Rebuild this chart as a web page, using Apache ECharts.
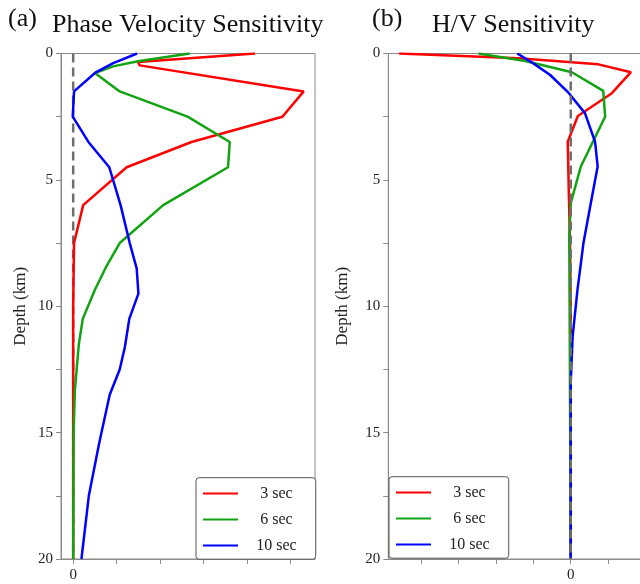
<!DOCTYPE html>
<html>
<head>
<meta charset="utf-8">
<script src="https://cdn.jsdelivr.net/npm/echarts@6/dist/echarts.min.js"></script>
<style>
html,body{margin:0;padding:0;background:#fff;}
#c{width:640px;height:584px;}
</style>
</head>
<body>
<div id="c"></div>
<script>
// ---- Data ----
const seriesNames = ['3 sec', '6 sec', '10 sec'];

// (a) Phase velocity sensitivity
const pvDepth3  = [0, 0.34, 0.47, 1.5, 2.5, 3.5, 4.5, 6, 7.5, 10, 20];
const pvRed     = [4.18, 1.49, 1.53, 5.30, 4.81, 2.72, 1.23, 0.23, 0.02, 0.0, 0.0];
const pvDepth6  = [0, 0.31, 0.51, 0.77, 1.5, 2.5, 3.5, 4.5, 6, 7.5, 8.4, 9.35, 10.5, 11.5, 13.3, 15, 20];
const pvGreen   = [2.68, 1.49, 0.92, 0.50, 1.07, 2.63, 3.60, 3.56, 2.07, 1.07, 0.77, 0.50, 0.22, 0.13, 0.04, 0.01, 0.0];
const pvDepth10 = [0, 0.38, 0.77, 1.5, 2.5, 3.5, 4.5, 6, 7.5, 8.5, 9.5, 10.5, 11.6, 12.5, 13.5, 15.4, 17.5, 20];
const pvBlue    = [1.47, 0.92, 0.50, 0.02, -0.01, 0.35, 0.83, 1.09, 1.30, 1.46, 1.50, 1.29, 1.19, 1.07, 0.84, 0.60, 0.36, 0.19];

// (b) H/V sensitivity
const hvDepth3  = [0, 0.19, 0.43, 0.74, 1.57, 2.47, 3.49, 5.6, 7.5, 10, 20];
const hvRed     = [-4.59, -1.40, 0.74, 1.61, 1.10, 0.19, -0.08, -0.05, -0.02, 0.0, 0.0];
const hvDepth6  = [0, 0.3, 0.74, 1.48, 2.5, 4.47, 5.92, 7.24, 10, 20];
const hvGreen   = [-2.47, -1.22, 0.03, 0.87, 0.92, 0.27, 0.0, -0.04, -0.03, 0.0];
const hvDepth10 = [0, 0.39, 0.85, 1.55, 2.36, 3.49, 4.47, 6.05, 7.5, 9.35, 11.2, 13, 20];
const hvBlue    = [-1.43, -1.0, -0.55, -0.06, 0.38, 0.65, 0.72, 0.52, 0.34, 0.18, 0.05, 0.0, 0.0];

// zero reference line
const zeroDepth = [0, 20];
const zeroValue = [0, 0];

// ticks
const pvTicks = [0, 1, 2, 3, 4, 5];
const hvTicks = [-4, -3, -2, -1, 0, 1];
const xLabelTicks = [0];
const depthLabels = [0, 5, 10, 15, 20];

// ---- Build ----
function pairs(vals, depths) { return vals.map((v, i) => [v, depths[i]]); }

const SERIF = 'Liberation Serif';
const colors = ['#ff0000', '#12a312', '#0000ff'];
const axisGray = '#8a8a8a';

function xAxisFor(idx, min, max, ticks) {
  return {
    type: 'value', gridIndex: idx, min: min, max: max,
    axisLine: { show: true, onZero: false, lineStyle: { color: axisGray, width: 1 } },
    axisTick: { show: true, length: 5, customValues: ticks, lineStyle: { color: axisGray } },
    axisLabel: { customValues: xLabelTicks, margin: 9, fontFamily: SERIF, fontSize: 15, color: '#222' },
    splitLine: { show: false }
  };
}
function yAxisFor(idx, gap) {
  return {
    type: 'value', gridIndex: idx, min: 0, max: 20, interval: 2.5, inverse: true,
    name: 'Depth (km)', nameLocation: 'middle', nameGap: gap, nameRotate: 90,
    nameTextStyle: { fontFamily: SERIF, fontSize: 17, color: '#222' },
    axisLine: { show: true, onZero: false, lineStyle: { color: axisGray, width: 1 } },
    axisTick: { show: true, length: 5, lineStyle: { color: axisGray } },
    axisLabel: {
      margin: 8, fontFamily: SERIF, fontSize: 15, color: '#222',
      formatter: v => depthLabels.indexOf(v) >= 0 ? String(v) : ''
    },
    splitLine: { show: false }
  };
}
function line(name, data, idx, color) {
  return {
    name: name, type: 'line', xAxisIndex: idx, yAxisIndex: idx, data: data,
    symbol: 'none', smooth: false, lineStyle: { color: color, width: 2.5 },
    itemStyle: { color: color }, z: 3, animation: false
  };
}
function zeroLine(idx, z) {
  return {
    name: 'zero', type: 'line', xAxisIndex: idx, yAxisIndex: idx,
    data: pairs(zeroValue, zeroDepth), symbol: 'none', silent: true,
    lineStyle: { color: '#6e6e6e', width: 2.5, type: [9, 5] }, z: z, animation: false
  };
}
function legendFor(left, top) {
  return {
    orient: 'vertical', left: left, top: top,
    data: seriesNames.map(n => ({ name: n, icon: 'rect' })),
    itemWidth: 35, itemHeight: 2, itemGap: 10,
    padding: [7.8, 19, 5.7, 7],
    backgroundColor: '#fff', borderColor: '#555', borderWidth: 1, borderRadius: 3,
    formatter: n => '{t|' + n + '}',
    textStyle: {
      fontFamily: SERIF, fontSize: 16, color: '#222',
      rich: { t: { width: 67, height: 16, align: 'center', fontFamily: SERIF, fontSize: 16, color: '#222' } }
    },
    selectedMode: false
  };
}
function titleText(text, left, top) {
  return { text: text, left: left, top: top, padding: 0,
    textStyle: { fontFamily: SERIF, fontSize: 26, fontWeight: 'normal', color: '#111' } };
}

const option = {
  animation: false,
  backgroundColor: '#fff',
  title: [
    titleText('(a)', 8, 6),
    titleText('Phase Velocity Sensitivity', 52, 12),
    titleText('(b)', 372, 6),
    titleText('H/V Sensitivity', 432, 12)
  ],
  grid: [
    { left: 61, width: 254, top: 53.5, height: 505.5, show: true, borderColor: axisGray, borderWidth: 1, outerBoundsMode: 'none' },
    { left: 388.3, width: 261.7, top: 53.5, height: 505.5, show: true, borderColor: axisGray, borderWidth: 1, outerBoundsMode: 'none' }
  ],
  xAxis: [ xAxisFor(0, -0.28, 5.56, pvTicks), xAxisFor(1, -4.88, 2.12, hvTicks) ],
  yAxis: [ yAxisFor(0, 31.5), yAxisFor(1, 37) ],
  legend: [ legendFor(196, 477.7), legendFor(389, 476.7) ],
  series: [
    zeroLine(0, 2),
    line(seriesNames[0], pairs(pvRed, pvDepth3), 0, colors[0]),
    line(seriesNames[1], pairs(pvGreen, pvDepth6), 0, colors[1]),
    line(seriesNames[2], pairs(pvBlue, pvDepth10), 0, colors[2]),
    line(seriesNames[0], pairs(hvRed, hvDepth3), 1, colors[0]),
    line(seriesNames[1], pairs(hvGreen, hvDepth6), 1, colors[1]),
    line(seriesNames[2], pairs(hvBlue, hvDepth10), 1, colors[2]),
    zeroLine(1, 5)
  ]
};

const chart = echarts.init(document.getElementById('c'), null, { renderer: 'canvas' });
chart.setOption(option);
</script>
</body>
</html>
